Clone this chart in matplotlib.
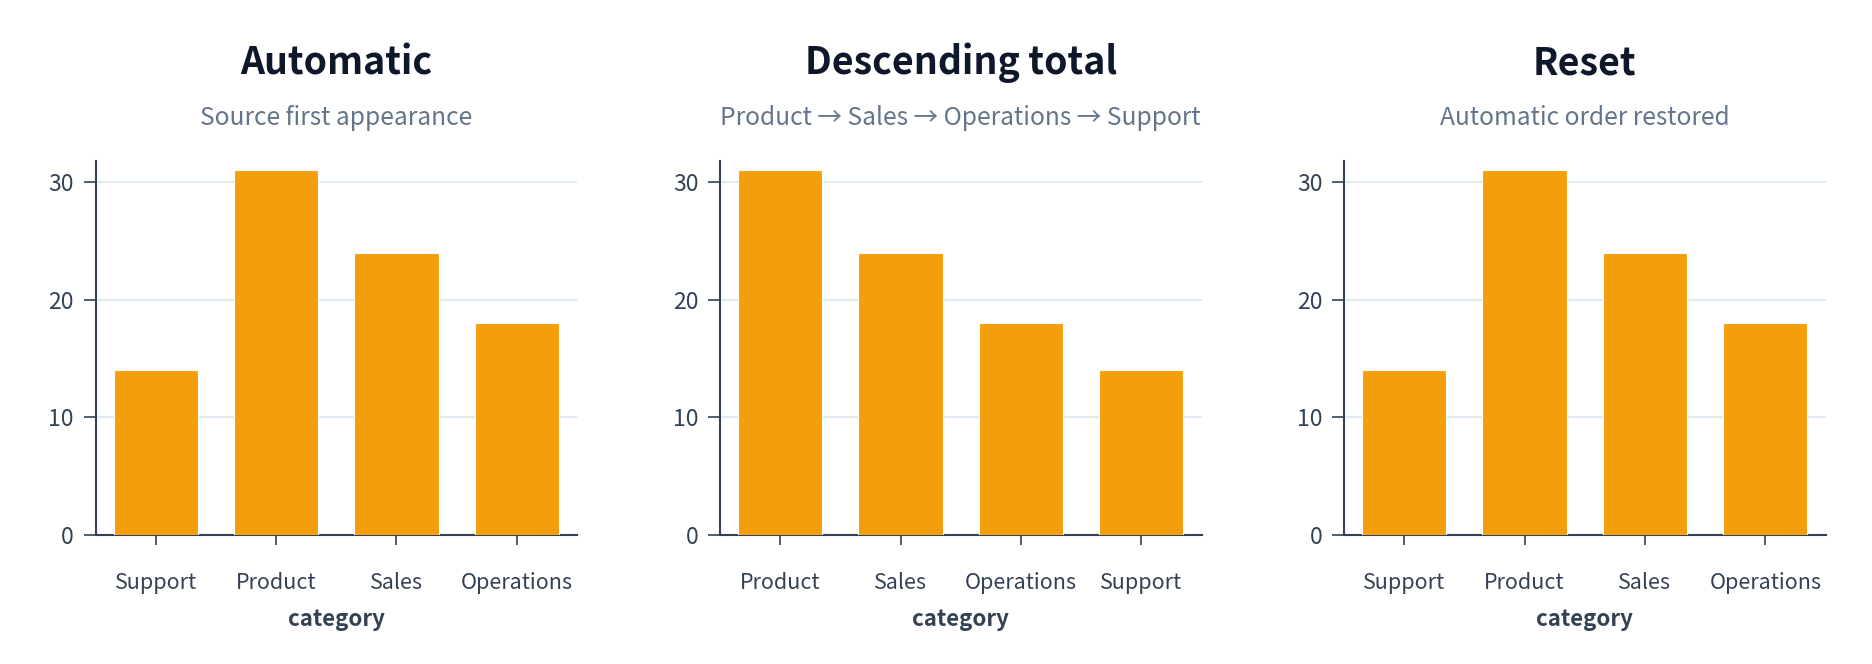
import matplotlib
matplotlib.use("Agg")
import matplotlib.pyplot as plt

categories_auto = ["Support", "Product", "Sales", "Operations"]
values_auto = [14, 31, 24, 18]
categories_desc = ["Product", "Sales", "Operations", "Support"]
values_desc = [31, 24, 18, 14]
titles = ["Automatic", "Descending total", "Reset"]
subtitles = ["Source first appearance",
             "Product \u2192 Sales \u2192 Operations \u2192 Support",
             "Automatic order restored"]
yticks = [0, 10, 20, 30]
xlabel = "category"

panels = [
    (categories_auto, values_auto),
    (categories_desc, values_desc),
    (categories_auto, values_auto),
]

plt.rcParams['font.family'] = ['Noto Sans CJK KR', 'DejaVu Sans']

BAR = "#f59e0b"
AX = "#334155"
GRID = "#e2e8f0"
TITLE = "#0f172a"
SUB = "#64748b"

fig = plt.figure(figsize=(18.72, 6.64), dpi=100)
lefts = [95.5, 720, 1344]
W, H = 1872, 664
for i, (cats, vals) in enumerate(panels):
    l = lefts[i]
    ax = fig.add_axes([l / W, 1 - 535 / H, 481.5 / W, (535 - 161) / H])
    x = list(range(len(cats)))
    ax.bar(x, vals, width=0.7, color=BAR, edgecolor="white", linewidth=0.8, zorder=3)
    ax.set_xlim(-0.5, len(cats) - 0.5)
    ax.set_ylim(0, 31.8)
    ax.set_yticks(yticks)
    ax.set_xticks(x)
    ax.set_xticklabels(cats)
    ax.yaxis.grid(True, color=GRID, linewidth=1.5, zorder=0)
    ax.set_axisbelow(True)
    for s in ["top", "right"]:
        ax.spines[s].set_visible(False)
    for s in ["left", "bottom"]:
        ax.spines[s].set_color(AX)
        ax.spines[s].set_linewidth(1.5)
    ax.tick_params(axis="y", length=8.5, width=1.2, color=AX, labelcolor=AX,
                   labelsize=16.5, pad=7)
    ax.tick_params(axis="x", length=7, width=1.2, color=AX, labelcolor=AX,
                   labelsize=15.5, pad=19.5)
    ax.set_xlabel(xlabel, fontsize=16, fontweight="bold", color=AX, labelpad=10)
    cx = (l + 481.5 / 2) / W
    fig.text(cx, 1 - 63 / H, titles[i], ha="center", va="center",
             fontsize=27, fontweight="bold", color=TITLE)
    fig.text(cx, 1 - 118 / H, subtitles[i], ha="center", va="center",
             fontsize=17.7, color=SUB)

fig.savefig("out.png", dpi=100, facecolor="white")
